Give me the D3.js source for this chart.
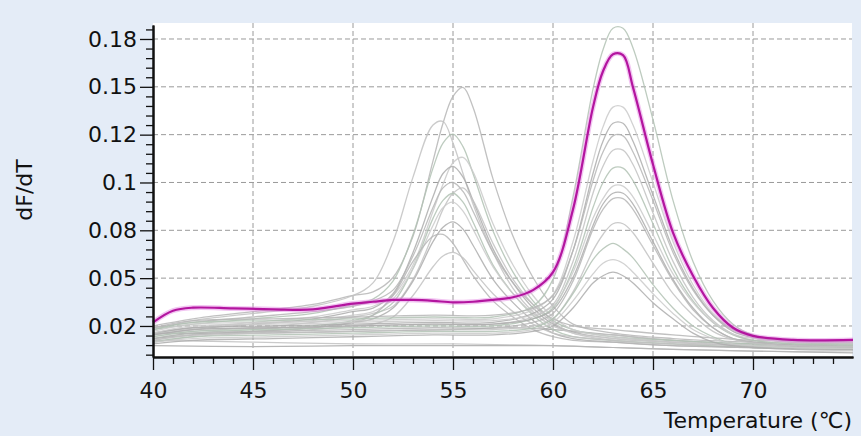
<!DOCTYPE html>
<html>
<head>
<meta charset="utf-8">
<script src="https://cdn.jsdelivr.net/npm/d3@7"></script>
<style>
  html, body { margin: 0; padding: 0; background: #e4ecf7; }
  svg { display: block; }
  text { font-family: "DejaVu Sans", sans-serif; fill: #111; }
</style>
</head>
<body>
<svg id="chart"></svg>
<script>
// ---- data ----
const xTickLabels = ['40', '45', '50', '55', '60', '65', '70'];
const yTickLabels = ['0.02', '0.05', '0.08', '0.1', '0.12', '0.15', '0.18'];

// highlighted sample (magenta)
const tempsMain = [40, 41, 42, 44, 46, 48, 50, 51, 52, 53, 54, 55, 56, 57, 58, 59, 60, 61, 62, 62.5, 63, 63.5, 64, 65, 66, 67, 68, 69, 70, 72, 75];
const mainCurve = [0.022, 0.0285, 0.0302, 0.0298, 0.0293, 0.0292, 0.0325, 0.0335, 0.0345, 0.0345, 0.034, 0.0332, 0.0335, 0.0345, 0.036, 0.040, 0.050, 0.085, 0.142, 0.162, 0.1715, 0.171, 0.153, 0.110, 0.072, 0.048, 0.030, 0.019, 0.0145, 0.0122, 0.0122];

// samples melting around 63 C
const tempsHigh = [40, 42, 46, 50, 54, 57, 59, 60, 61, 62, 62.5, 63, 63.5, 64, 65, 66, 67, 68, 69, 70, 72, 75];
const highCurves = [
  [0.018, 0.022, 0.023, 0.024, 0.025, 0.025, 0.031, 0.046, 0.092, 0.152, 0.174, 0.186, 0.186, 0.175, 0.135, 0.090, 0.056, 0.034, 0.021, 0.015, 0.012, 0.012],
  [0.017, 0.021, 0.022, 0.023, 0.024, 0.024, 0.029, 0.0375, 0.067, 0.112, 0.131, 0.142, 0.142, 0.132, 0.100, 0.067, 0.043, 0.027, 0.018, 0.014, 0.011, 0.011],
  [0.016, 0.019, 0.020, 0.021, 0.022, 0.022, 0.027, 0.035, 0.062, 0.105, 0.123, 0.133, 0.133, 0.123, 0.093, 0.063, 0.041, 0.026, 0.017, 0.0135, 0.011, 0.0105],
  [0.019, 0.023, 0.024, 0.025, 0.026, 0.026, 0.030, 0.037, 0.062, 0.101, 0.117, 0.126, 0.126, 0.117, 0.090, 0.061, 0.040, 0.026, 0.018, 0.014, 0.012, 0.0115],
  [0.015, 0.018, 0.019, 0.020, 0.021, 0.021, 0.025, 0.032, 0.056, 0.094, 0.109, 0.118, 0.118, 0.110, 0.083, 0.056, 0.036, 0.023, 0.0155, 0.012, 0.010, 0.0095],
  [0.014, 0.017, 0.018, 0.019, 0.020, 0.020, 0.024, 0.030, 0.052, 0.086, 0.100, 0.108, 0.108, 0.101, 0.077, 0.052, 0.034, 0.022, 0.015, 0.012, 0.010, 0.0095],
  [0.016, 0.020, 0.021, 0.022, 0.023, 0.023, 0.026, 0.031, 0.050, 0.080, 0.091, 0.098, 0.098, 0.092, 0.071, 0.049, 0.033, 0.022, 0.0155, 0.013, 0.011, 0.0105],
  [0.015, 0.018, 0.019, 0.020, 0.021, 0.021, 0.024, 0.029, 0.047, 0.076, 0.088, 0.094, 0.094, 0.088, 0.067, 0.046, 0.030, 0.019, 0.013, 0.011, 0.009, 0.0085],
  [0.013, 0.016, 0.017, 0.018, 0.019, 0.019, 0.022, 0.027, 0.045, 0.074, 0.085, 0.091, 0.091, 0.085, 0.065, 0.045, 0.029, 0.019, 0.013, 0.011, 0.009, 0.0085],
  [0.012, 0.015, 0.016, 0.017, 0.018, 0.018, 0.020, 0.024, 0.039, 0.062, 0.071, 0.077, 0.077, 0.072, 0.055, 0.038, 0.026, 0.017, 0.0125, 0.0105, 0.009, 0.0085],
  [0.011, 0.014, 0.015, 0.016, 0.017, 0.017, 0.019, 0.024, 0.038, 0.057, 0.063, 0.066, 0.063, 0.058, 0.043, 0.030, 0.020, 0.014, 0.010, 0.009, 0.008, 0.0075],
  [0.011, 0.013, 0.014, 0.015, 0.016, 0.016, 0.018, 0.022, 0.034, 0.049, 0.055, 0.057, 0.055, 0.050, 0.038, 0.027, 0.018, 0.013, 0.010, 0.009, 0.008, 0.0075],
  [0.010, 0.012, 0.013, 0.014, 0.015, 0.015, 0.017, 0.020, 0.030, 0.044, 0.048, 0.050, 0.048, 0.044, 0.033, 0.024, 0.016, 0.011, 0.009, 0.008, 0.007, 0.0065]
];

// samples melting around 55 C
const tempsLow = [40, 42, 45, 48, 50, 51, 52, 53, 54, 54.5, 55, 55.5, 56, 57, 58, 59, 60, 61, 63, 66, 70, 75];
const lowCurves = [
  [0.020, 0.024, 0.028, 0.032, 0.037, 0.039, 0.047, 0.070, 0.112, 0.133, 0.148, 0.153, 0.142, 0.102, 0.070, 0.047, 0.031, 0.021, 0.016, 0.013, 0.011, 0.010],
  [0.018, 0.023, 0.027, 0.031, 0.037, 0.044, 0.067, 0.103, 0.132, 0.134, 0.122, 0.105, 0.088, 0.061, 0.041, 0.028, 0.020, 0.017, 0.015, 0.012, 0.010, 0.009],
  [0.018, 0.021, 0.024, 0.027, 0.032, 0.035, 0.045, 0.071, 0.108, 0.122, 0.127, 0.120, 0.105, 0.073, 0.050, 0.034, 0.023, 0.018, 0.014, 0.012, 0.010, 0.009],
  [0.016, 0.019, 0.022, 0.025, 0.029, 0.031, 0.037, 0.054, 0.084, 0.099, 0.111, 0.114, 0.106, 0.077, 0.054, 0.037, 0.025, 0.018, 0.014, 0.011, 0.009, 0.008],
  [0.015, 0.018, 0.021, 0.024, 0.028, 0.030, 0.038, 0.061, 0.092, 0.105, 0.109, 0.103, 0.090, 0.063, 0.044, 0.030, 0.021, 0.0165, 0.013, 0.011, 0.009, 0.008],
  [0.019, 0.022, 0.025, 0.028, 0.031, 0.034, 0.040, 0.059, 0.086, 0.097, 0.100, 0.095, 0.084, 0.061, 0.044, 0.032, 0.024, 0.020, 0.018, 0.015, 0.012, 0.011],
  [0.014, 0.017, 0.019, 0.022, 0.025, 0.027, 0.031, 0.046, 0.071, 0.085, 0.094, 0.097, 0.090, 0.066, 0.046, 0.032, 0.022, 0.016, 0.012, 0.010, 0.008, 0.007],
  [0.013, 0.016, 0.018, 0.020, 0.023, 0.026, 0.033, 0.052, 0.080, 0.090, 0.094, 0.089, 0.078, 0.054, 0.038, 0.026, 0.018, 0.014, 0.012, 0.010, 0.008, 0.007],
  [0.016, 0.019, 0.021, 0.023, 0.026, 0.028, 0.035, 0.052, 0.076, 0.086, 0.089, 0.084, 0.074, 0.053, 0.038, 0.027, 0.020, 0.016, 0.013, 0.011, 0.009, 0.008],
  [0.013, 0.015, 0.017, 0.019, 0.022, 0.024, 0.030, 0.045, 0.067, 0.075, 0.078, 0.074, 0.065, 0.046, 0.033, 0.023, 0.016, 0.013, 0.011, 0.009, 0.008, 0.007],
  [0.012, 0.015, 0.017, 0.019, 0.022, 0.026, 0.037, 0.056, 0.070, 0.071, 0.066, 0.057, 0.048, 0.034, 0.025, 0.018, 0.014, 0.012, 0.011, 0.009, 0.008, 0.007],
  [0.011, 0.014, 0.016, 0.018, 0.020, 0.021, 0.025, 0.037, 0.053, 0.059, 0.061, 0.058, 0.051, 0.038, 0.028, 0.021, 0.016, 0.014, 0.012, 0.010, 0.009, 0.008]
];

// samples with no peak
const tempsFlat = [40, 45, 50, 55, 58, 60, 63, 66, 70, 75];
const flatCurves = [
  [0.012, 0.011, 0.010, 0.010, 0.0095, 0.009, 0.008, 0.007, 0.006, 0.0055],
  [0.016, 0.016, 0.017, 0.018, 0.019, 0.018, 0.015, 0.012, 0.010, 0.009],
  [0.009, 0.0085, 0.009, 0.009, 0.009, 0.009, 0.008, 0.007, 0.006, 0.005]
];

const grayColors = ['#b6b6b6', '#c2c2c2', '#b2c2b4', '#cacaca', '#adadad'];

// ---- layout ----
const width = 861;
const height = 436;
const plotLeft = 153, plotRight = 852, plotTop = 23, plotBottom = 357;

const svg = d3.select('#chart')
  .attr('width', width)
  .attr('height', height);

svg.append('rect')
  .attr('width', width).attr('height', height)
  .attr('fill', '#e4ecf7');

svg.append('rect')
  .attr('x', plotLeft).attr('y', plotTop)
  .attr('width', plotRight - plotLeft).attr('height', plotBottom - plotTop)
  .attr('fill', '#ffffff');

let x = d3.scaleLinear().domain([40, 75]).range([plotLeft, plotLeft + 700]);
let y = d3.scaleLinear().domain([0.0027, 0.1878]).range([plotBottom, 25]);

const yStep = 0.16 / 6;
const yTickValues = yTickLabels.map((d, i) => 0.02 + i * yStep);
const xTickValues = xTickLabels.map(Number);

// grid
let grid = svg.append('g')
  .attr('stroke', '#9a9a9a')
  .attr('stroke-width', 1)
  .attr('stroke-dasharray', '5,3');

grid.selectAll('line.h')
  .data(yTickValues)
  .enter()
  .append('line')
  .attr('x1', plotLeft).attr('x2', plotRight)
  .attr('y1', d => y(d)).attr('y2', d => y(d));

grid.selectAll('line.v')
  .data(xTickValues.slice(1))
  .enter()
  .append('line')
  .attr('y1', plotTop).attr('y2', plotBottom)
  .attr('x1', d => x(d)).attr('x2', d => x(d));

// curves
let line = (temps) => d3.line()
  .x((d, i) => x(temps[i]))
  .y(d => y(d))
  .curve(d3.curveCatmullRom.alpha(0.5));

let curves = svg.append('g').attr('fill', 'none');

curves.selectAll('path.flat')
  .data(flatCurves)
  .enter()
  .append('path')
  .attr('d', line(tempsFlat))
  .attr('stroke', (d, i) => grayColors[(i + 3) % grayColors.length])
  .attr('stroke-width', 1.2);

curves.selectAll('path.low')
  .data(lowCurves)
  .enter()
  .append('path')
  .attr('d', line(tempsLow))
  .attr('stroke', (d, i) => grayColors[i % grayColors.length])
  .attr('stroke-width', 1.3)
  .attr('opacity', 0.85);

curves.selectAll('path.high')
  .data(highCurves)
  .enter()
  .append('path')
  .attr('d', line(tempsHigh))
  .attr('stroke', (d, i) => grayColors[(i + 2) % grayColors.length])
  .attr('stroke-width', 1.3)
  .attr('opacity', 0.85);

curves.append('path')
  .attr('d', line(tempsMain)(mainCurve))
  .attr('stroke', '#e58ce5')
  .attr('stroke-width', 5)
  .attr('opacity', 0.5);

curves.append('path')
  .attr('d', line(tempsMain)(mainCurve))
  .attr('stroke', '#b3159f')
  .attr('stroke-width', 2.2);

// axes
let xAxis = d3.axisBottom(x)
  .tickValues(xTickValues)
  .tickSize(13)
  .tickSizeOuter(0)
  .tickPadding(12)
  .tickFormat((d, i) => xTickLabels[i]);

let xMinor = d3.axisBottom(x)
  .tickValues(d3.range(41, 75).filter(d => d % 5 !== 0))
  .tickSize(7)
  .tickSizeOuter(0)
  .tickFormat('');

let yAxis = d3.axisLeft(y)
  .tickValues(yTickValues)
  .tickSize(13)
  .tickSizeOuter(0)
  .tickPadding(3)
  .tickFormat((d, i) => yTickLabels[i]);

let yMinor = d3.axisLeft(y)
  .tickValues(d3.range(-3, 33).filter(i => i % 5 !== 0).map(i => 0.02 + i * yStep / 5).filter(v => v > y.domain()[0] && v < y.domain()[1]))
  .tickSize(7)
  .tickSizeOuter(0)
  .tickFormat('');

svg.append('g')
  .attr('transform', 'translate(0,' + plotBottom + ')')
  .call(xMinor);

svg.append('g')
  .attr('transform', 'translate(' + plotLeft + ',0)')
  .call(yMinor);

svg.append('g')
  .attr('id', 'x-axis')
  .attr('transform', 'translate(0,' + plotBottom + ')')
  .call(xAxis);

svg.append('g')
  .attr('id', 'y-axis')
  .attr('transform', 'translate(' + plotLeft + ',0)')
  .call(yAxis);

svg.selectAll('.domain').attr('stroke', '#111').attr('stroke-width', 2);
svg.selectAll('.tick line').attr('stroke', '#111').attr('stroke-width', 1.3);
svg.selectAll('.tick text')
  .style('font-family', '"DejaVu Sans", sans-serif')
  .style('font-size', '22px')
  .attr('fill', '#111');

// axis titles
svg.append('text')
  .attr('x', plotRight)
  .attr('y', 428)
  .attr('text-anchor', 'end')
  .style('font-size', '22px')
  .text('Temperature (℃)');

svg.append('text')
  .attr('transform', 'translate(32,190) rotate(-90)')
  .attr('text-anchor', 'middle')
  .style('font-size', '22px')
  .text('dF/dT');
</script>
</body>
</html>
